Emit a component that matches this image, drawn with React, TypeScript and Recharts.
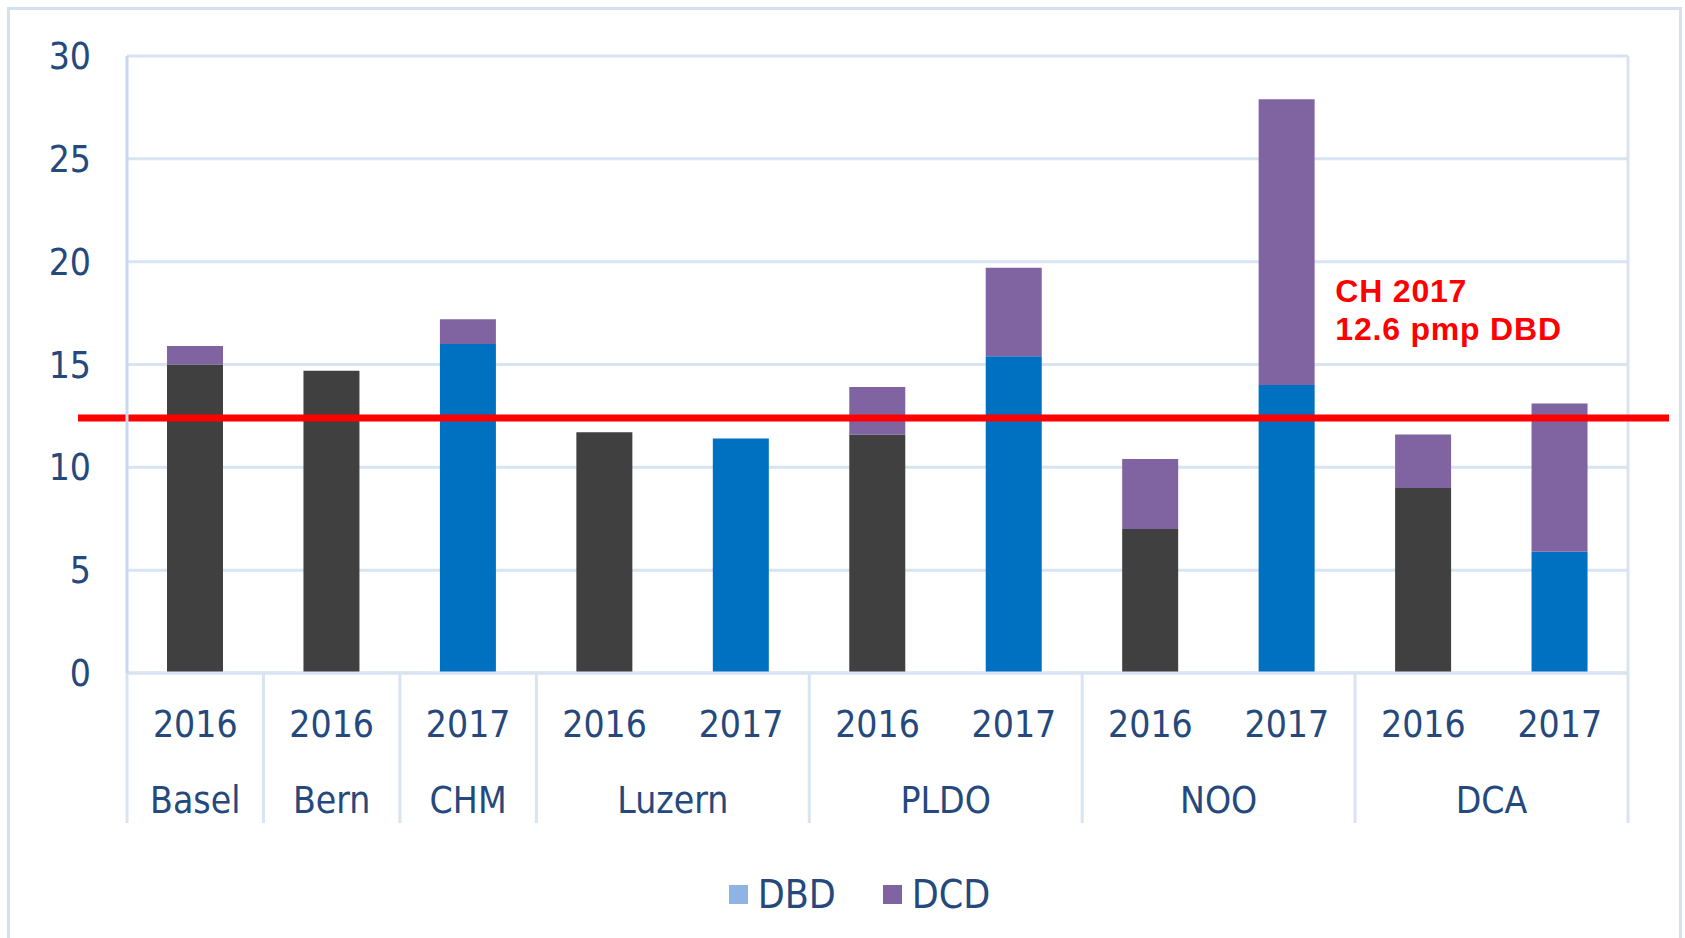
import React from "react";
import {
  BarChart,
  Bar,
  Cell,
  XAxis,
  YAxis,
  CartesianGrid,
  ReferenceLine,
  Legend,
} from "recharts";

const groups = ["Basel", "Bern", "CHM", "Luzern", "Luzern", "PLDO", "PLDO", "NOO", "NOO", "DCA", "DCA"];
const years = ["2016", "2016", "2017", "2016", "2017", "2016", "2017", "2016", "2017", "2016", "2017"];
const dbdValues = [15.0, 14.7, 16.0, 11.7, 11.4, 11.6, 15.4, 7.0, 14.0, 9.0, 5.9];
const dcdValues = [0.9, 0, 1.2, 0, 0, 2.3, 4.3, 3.4, 13.9, 2.6, 7.2];
const yTicks = [0, 5, 10, 15, 20, 25, 30];
const chAverage = 12.4;
const chLabel = ["CH 2017", "12.6 pmp DBD"];

const data = groups.map((g, i) => ({
  id: `${g} ${years[i]} ${i}`,
  group: g,
  year: years[i],
  DBD: dbdValues[i],
  DCD: dcdValues[i],
}));

const W = 1685;
const H = 938;
const MARGIN = { top: 56, right: 57, left: 27, bottom: 70 };
const Y_W = 100;
const BAND = (W - MARGIN.left - Y_W - MARGIN.right) / data.length;

const FONT = "'DejaVu Sans Condensed', 'DejaVu Sans', sans-serif";
const TEXT = "#25497c";
const GRID = "#d9e4f2";
const COLOR_2016 = "#404040";
const COLOR_2017 = "#0070c0";
const COLOR_DCD = "#8064a2";
const COLOR_DBD_LEGEND = "#8db4e2";

const isFirst = (i: number) => i === 0 || groups[i] !== groups[i - 1];
const groupSize = (i: number) => groups.filter((g) => g === groups[i]).length;

// first row under the bars: years, plus the group separators spanning both rows
function YearTick(props: any) {
  const { x, y, index } = props;
  return (
    <g>
      {isFirst(index) && (
        <line x1={x - BAND / 2} x2={x - BAND / 2} y1={y} y2={y + 150} stroke={GRID} strokeWidth={3} />
      )}
      {index === data.length - 1 && (
        <line x1={x + BAND / 2} x2={x + BAND / 2} y1={y} y2={y + 150} stroke={GRID} strokeWidth={3} />
      )}
      <text x={x} y={y + 64} textAnchor="middle" fill={TEXT} fontSize={37} fontFamily={FONT}>
        {years[index]}
      </text>
    </g>
  );
}

function GroupTick(props: any) {
  const { x, y, index } = props;
  if (!isFirst(index)) return null;
  const cx = x + ((groupSize(index) - 1) * BAND) / 2;
  return (
    <text x={cx} y={y + 60} textAnchor="middle" fill={TEXT} fontSize={37} fontFamily={FONT}>
      {groups[index]}
    </text>
  );
}

function AverageLine(props: any) {
  const { x1, x2, y1, y2 } = props;
  return <line x1={x1 - 49} x2={x2 + 41} y1={y1} y2={y2} stroke="#ff0000" strokeWidth={7} />;
}

function AverageLabel(props: any) {
  const { viewBox } = props;
  const x = viewBox.x + viewBox.width * 0.805;
  return (
    <text
      fill="#ff0000"
      fontSize={32}
      fontWeight="bold"
      letterSpacing={0.8}
      fontFamily="'Liberation Sans', Arial, sans-serif"
    >
      <tspan x={x} y={viewBox.y - 116}>{chLabel[0]}</tspan>
      <tspan x={x} y={viewBox.y - 78}>{chLabel[1]}</tspan>
    </text>
  );
}

function LegendContent() {
  const items = [
    { name: "DBD", color: COLOR_DBD_LEGEND },
    { name: "DCD", color: COLOR_DCD },
  ];
  return (
    <div
      style={{
        display: "flex",
        justifyContent: "center",
        gap: 47,
        fontFamily: FONT,
        fontSize: 39,
        color: TEXT,
        paddingLeft: 34,
      }}
    >
      {items.map((it) => (
        <div key={it.name} style={{ display: "flex", alignItems: "center" }}>
          <span style={{ width: 19, height: 19, background: it.color, display: "inline-block", marginRight: 10 }} />
          <span>{it.name}</span>
        </div>
      ))}
    </div>
  );
}

export default function App() {
  return (
    <div style={{ position: "absolute", left: 0, top: 0, width: W, height: H, background: "#fff", overflow: "hidden" }}>
      <div
        style={{
          position: "absolute",
          left: 7,
          top: 7,
          width: 1675,
          height: 980,
          border: "3px solid #d3e0f1",
          boxSizing: "border-box",
        }}
      />
      <div style={{ position: "absolute", left: 0, top: 0 }}>
        <BarChart width={W} height={H} data={data} margin={MARGIN} barSize={56}>
          <CartesianGrid
            stroke={GRID}
            strokeWidth={3}
            verticalCoordinatesGenerator={({ offset }: any) => [offset.left + offset.width]}
          />
          <XAxis
            xAxisId={0}
            dataKey="id"
            interval={0}
            tickLine={false}
            tickSize={0}
            tickMargin={0}
            height={80}
            axisLine={{ stroke: GRID, strokeWidth: 3 }}
            tick={<YearTick />}
          />
          <XAxis
            xAxisId={1}
            dataKey="id"
            interval={0}
            tickLine={false}
            tickSize={0}
            tickMargin={0}
            height={70}
            axisLine={false}
            tick={<GroupTick />}
          />
          <YAxis
            domain={[0, 30]}
            ticks={yTicks}
            width={Y_W}
            tickLine={false}
            axisLine={{ stroke: "#c9d8ec", strokeWidth: 3 }}
            tick={{ fill: TEXT, fontSize: 37, fontFamily: FONT }}
            tickMargin={30}
          />
          <Bar dataKey="DBD" stackId="a" xAxisId={0} isAnimationActive={false}>
            {data.map((d, i) => (
              <Cell key={i} fill={d.year === "2016" ? COLOR_2016 : COLOR_2017} />
            ))}
          </Bar>
          <Bar dataKey="DCD" stackId="a" xAxisId={0} fill={COLOR_DCD} isAnimationActive={false} />
          <ReferenceLine
            y={chAverage}
            xAxisId={0}
            ifOverflow="visible"
            shape={<AverageLine />}
            label={<AverageLabel />}
          />
          <Legend content={<LegendContent />} wrapperStyle={{ top: 872, left: 0, width: W }} />
        </BarChart>
      </div>
    </div>
  );
}
